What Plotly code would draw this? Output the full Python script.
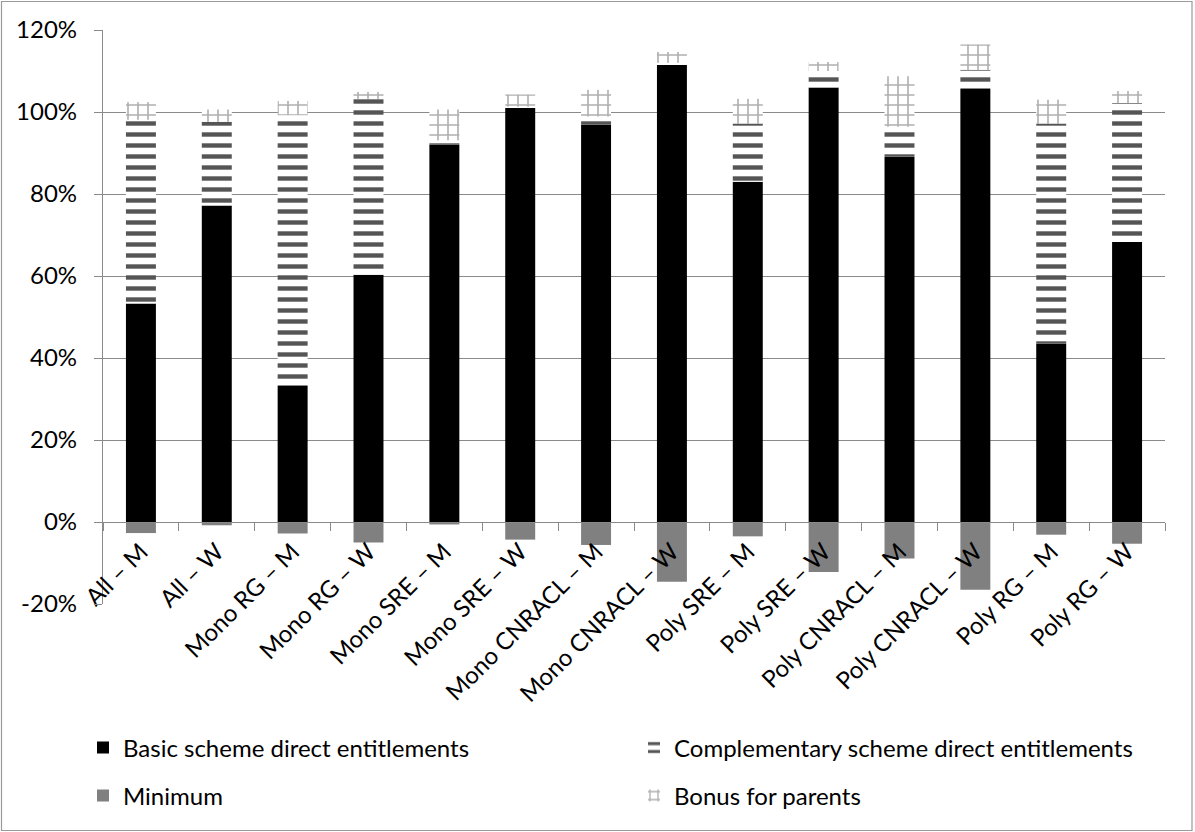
import plotly.graph_objects as go

categories = ["All – M", "All – W", "Mono RG – M", "Mono RG – W", "Mono SRE – M",
              "Mono SRE – W", "Mono CNRACL – M", "Mono CNRACL – W", "Poly SRE – M",
              "Poly SRE – W", "Poly CNRACL – M", "Poly CNRACL – W", "Poly RG – M",
              "Poly RG – W"]

basic = [53.3, 77.2, 33.2, 60.3, 92.1, 101.0, 96.9, 111.6, 83.0, 106.0, 89.1, 105.6, 43.5, 68.3]
complementary = [44.8, 20.4, 66.0, 42.9, 1.0, 0.3, 2.0, 0.4, 14.2, 4.0, 7.3, 4.7, 53.7, 33.9]
minimum = [-2.7, -0.8, -2.8, -5.0, -0.6, -4.3, -5.6, -14.6, -3.5, -12.2, -8.9, -16.5, -3.1, -5.3]
bonus = [4.3, 3.0, 3.5, 1.7, 7.5, 3.0, 6.5, 2.65, 6.0, 2.2, 12.3, 6.2, 5.8, 2.9]

y_ticks = [-20, 0, 20, 40, 60, 80, 100, 120]
y_ticktext = ["-20%", "0%", "20%", "40%", "60%", "80%", "100%", "120%"]

FONT = "Lato, 'Open Sans', sans-serif"
GRID = "#8a8a8a"
FS = 24

fig = go.Figure()
fig.add_trace(go.Bar(
    x=categories, y=basic, name="Basic scheme direct entitlements",
    marker=dict(color="#000000", line=dict(width=0)), legend="legend"))
fig.add_trace(go.Bar(
    x=categories, y=complementary, name="Complementary scheme direct entitlements",
    marker=dict(color="#ffffff", line=dict(width=0),
                pattern=dict(shape="-", fgcolor="#555555", bgcolor="#ffffff",
                             size=11, solidity=0.4, fillmode="replace", fgopacity=1)),
    legend="legend"))
fig.add_trace(go.Bar(
    x=categories, y=minimum, name="Minimum",
    marker=dict(color="#808080", line=dict(width=0)), legend="legend2"))
fig.add_trace(go.Bar(
    x=categories, y=bonus, name="Bonus for parents",
    marker=dict(color="#ffffff", line=dict(width=0),
                pattern=dict(shape="+", fgcolor="#b0b0b0", bgcolor="#ffffff",
                             size=10, solidity=0.3, fillmode="replace", fgopacity=1)),
    legend="legend2"))

W, H = 1195, 832
ML, MR, MT, MB = 103, 30, 30, 228
pw, ph = W - ML - MR, H - MT - MB

def px_x(x):
    return (x - ML) / pw

def px_y(y):
    return (H - MB - y) / ph

legend_common = dict(
    orientation="h", xanchor="left", yanchor="middle",
    font=dict(family=FONT, size=FS, color="#000000"),
    entrywidth=506, entrywidthmode="pixels",
    bgcolor="rgba(0,0,0,0)", itemclick=False, itemdoubleclick=False,
    traceorder="normal")

fig.update_layout(
    width=W, height=H,
    margin=dict(l=ML, r=MR, t=MT, b=MB, autoexpand=False),
    paper_bgcolor="#ffffff", plot_bgcolor="#ffffff",
    barmode="relative", bargap=0.605,
    font=dict(family=FONT, size=FS, color="#000000"),
    showlegend=True,
    legend=dict(x=px_x(83), y=px_y(748), **legend_common),
    legend2=dict(x=px_x(83), y=px_y(796), **legend_common),
    xaxis=dict(
        type="category", anchor="free", position=20 / 140,
        showline=True, linecolor=GRID, linewidth=1.3,
        ticks="outside", tickson="boundaries", ticklen=8, tickcolor=GRID, tickwidth=1.3,
        tickangle=-45, showgrid=False, ticklabelstandoff=5,
        tickfont=dict(family=FONT, size=FS, color="#000000")),
    yaxis=dict(
        range=[-20, 120], tickvals=y_ticks, ticktext=y_ticktext,
        showline=True, linecolor=GRID, linewidth=1.3,
        ticks="outside", ticklen=8, tickcolor=GRID, tickwidth=1.3,
        showgrid=True, gridcolor=GRID, gridwidth=1.3, zeroline=False,
        ticklabelstandoff=12,
        tickfont=dict(family=FONT, size=FS, color="#000000")),
    shapes=[dict(type="rect", xref="paper", yref="paper",
                 x0=px_x(1.5), x1=px_x(1192), y0=px_y(830.5), y1=px_y(1.5),
                 line=dict(color="#9a9a9a", width=1.2), fillcolor="rgba(0,0,0,0)",
                 layer="below")],
)

fig.write_html("out.html", config={"displayModeBar": False},
               post_script="document.body.style.margin='0';document.body.style.overflow='hidden';")
